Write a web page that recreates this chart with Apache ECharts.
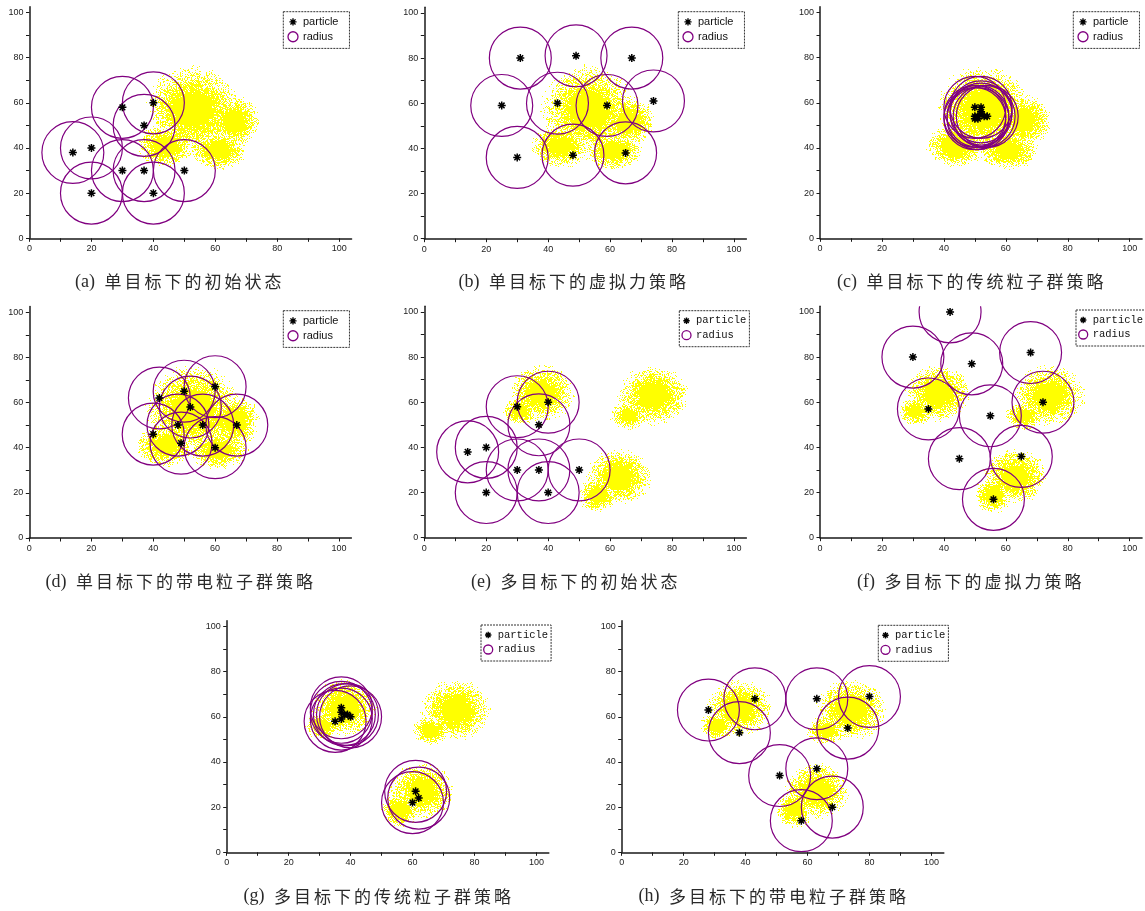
<!DOCTYPE html>
<html>
<head>
<meta charset="utf-8">
<script src="https://cdn.jsdelivr.net/npm/echarts@6/dist/echarts.min.js"></script>
<style>
  html, body { margin: 0; padding: 0; background: #ffffff; }
  #chart { width: 1145px; height: 911px; }
</style>
</head>
<body>
<div id="chart"></div>
<script>
// ---- data -------------------------------------------------------------
const labelTicks = [0, 20, 40, 60, 80, 100];
const tickMarks = [0, 10, 20, 30, 40, 50, 60, 70, 80, 90, 100];
const legendNames = ['particle', 'radius'];

// sensing radius of each particle, in x-axis units
const sensingRadius = 10;

// target distributions: lobes as [cx, cy, rx, ry]
const singleTargetCloud = [[53, 57, 16, 20.5], [44, 41, 10, 10], [61, 39, 10, 9], [66, 52, 9, 12]];
const multiTargetCloud = [
  [38, 64, 11, 13], [31, 56, 6, 6.5],
  [74, 63, 12, 14], [66, 54, 6.5, 6.5],
  [63, 27, 11, 13], [56, 19, 6.5, 8.5]
];

// particle positions [x, y]
const particlesA = [[14, 38], [20, 40], [20, 20], [30, 58], [37, 50], [40, 60], [30, 30], [37, 30], [40, 20], [50, 30]];
const particlesB = [[31, 80], [49, 81], [67, 80], [25, 59], [43, 60], [59, 59], [74, 61], [30, 36], [48, 37], [65, 38]];
const particlesC = [[50, 58], [52, 58], [50, 54], [51, 53], [52, 55], [53, 54], [52, 56], [51, 54], [50, 53], [54, 54]];
const particlesD = [[42, 62], [50, 65], [60, 67], [52, 58], [48, 50], [56, 50], [67, 50], [40, 46], [49, 42], [60, 40]];
const particlesE = [[14, 38], [20, 40], [20, 20], [30, 58], [37, 50], [40, 60], [30, 30], [37, 30], [40, 20], [50, 30]];
const particlesF = [[42, 100], [30, 80], [49, 77], [68, 82], [35, 57], [55, 54], [72, 60], [45, 35], [65, 36], [56, 17]];
const particlesG = [[37, 64], [37, 62], [38, 61], [39, 61], [40, 60], [35, 58], [37, 59], [61, 27], [62, 24], [60, 22]];
const particlesH = [[28, 63], [43, 68], [38, 53], [63, 68], [80, 69], [73, 55], [51, 34], [63, 37], [68, 20], [58, 14]];

const captionTags = ['(a)', '(b)', '(c)', '(d)', '(e)', '(f)', '(g)', '(h)'];
const captionTexts = [
  '单目标下的初始状态', '单目标下的虚拟力策略', '单目标下的传统粒子群策略', '单目标下的带电粒子群策略',
  '多目标下的初始状态', '多目标下的虚拟力策略', '多目标下的传统粒子群策略', '多目标下的带电粒子群策略'
];

const panelClouds = [singleTargetCloud, singleTargetCloud, singleTargetCloud, singleTargetCloud,
                     multiTargetCloud, multiTargetCloud, multiTargetCloud, multiTargetCloud];
const panelParticles = [particlesA, particlesB, particlesC, particlesD,
                        particlesE, particlesF, particlesG, particlesH];

// ---- layout -----------------------------------------------------------
const X_MAX = 104, Y_MAX = 102.5;
const PX_X = 3.097, PX_Y = 2.258;
const plotW = X_MAX * PX_X, plotH = Y_MAX * PX_Y;

const layout = [
  { left: 29.5,  bottom: 238.3, legend: [283.3, 11.7],  caption: [179, 282],   mono: false },
  { left: 424.3, bottom: 238.7, legend: [678.3, 11.7],  caption: [573, 282],   mono: false },
  { left: 820,   bottom: 238.3, legend: [1073.3, 11.7], caption: [971, 282],   mono: false },
  { left: 29.3,  bottom: 538,   legend: [283.3, 310.7], caption: [180, 582],   mono: false },
  { left: 424.3, bottom: 537.7, legend: [679.3, 310.7], caption: [575, 582],   mono: true },
  { left: 820,   bottom: 537.7, legend: [1076, 310],    caption: [970, 582],   mono: true },
  { left: 226.7, bottom: 852.3, legend: [481, 625],     caption: [378, 896.5], mono: true },
  { left: 621.7, bottom: 852.3, legend: [878.3, 625.3], caption: [773, 896.5], mono: true }
];

const AXIS_COLOR = '#1a1a1a';
const RING_COLOR = '#800080';
const CLOUD_RGB = [255, 255, 0];
const STAR = 'path://M5,0L5,10M0,5L10,5M1.46,1.46L8.54,8.54M8.54,1.46L1.46,8.54M3.4,3.4L6.6,3.4L6.6,6.6L3.4,6.6Z';
const STAR_LEGEND = 'path://M-2,-2M12,12M5,0L5,10M0,5L10,5M1.46,1.46L8.54,8.54M8.54,1.46L1.46,8.54M3.4,3.4L6.6,3.4L6.6,6.6L3.4,6.6Z';

// ---- grain texture for the target clouds ------------------------------
// stable per-pixel threshold so overlapping lobes share the same grain
function grainThreshold(x, y) {
  let h = (Math.imul(x, 374761393) + Math.imul(y, 668265263)) >>> 0;
  h = Math.imul(h ^ (h >>> 13), 1274126177) >>> 0;
  h = (h ^ (h >>> 16)) >>> 0;
  return (h & 0xffff) / 65536;
}

function grainImage(x0, y0, w, h, cx, cy, rx, ry) {
  const cv = document.createElement('canvas');
  cv.width = w; cv.height = h;
  const ctx = cv.getContext('2d');
  const img = ctx.createImageData(w, h);
  const d = img.data;
  for (let j = 0; j < h; j++) {
    for (let i = 0; i < w; i++) {
      const dx = (x0 + i + 0.5 - cx) / rx;
      const dy = (y0 + j + 0.5 - cy) / ry;
      const r2 = dx * dx + dy * dy;
      if (r2 >= 1) continue;
      const density = Math.min(1, 1.2 * Math.pow(1 - r2, 1.5));
      if (grainThreshold(x0 + i, y0 + j) < density) {
        const k = (j * w + i) * 4;
        d[k] = CLOUD_RGB[0]; d[k + 1] = CLOUD_RGB[1]; d[k + 2] = CLOUD_RGB[2]; d[k + 3] = 255;
      }
    }
  }
  ctx.putImageData(img, 0, 0);
  return cv;
}

function renderCloud(params, api) {
  const c = api.coord([api.value(0), api.value(1)]);
  const s = api.size([api.value(2), api.value(3)]);
  const x0 = Math.floor(c[0] - s[0]), y0 = Math.floor(c[1] - s[1]);
  const w = Math.ceil(2 * s[0]) + 2, h = Math.ceil(2 * s[1]) + 2;
  return {
    type: 'image',
    silent: true,
    style: { image: grainImage(x0, y0, w, h, c[0], c[1], s[0], s[1]), x: x0, y: y0, width: w, height: h }
  };
}

function renderRing(params, api) {
  const c = api.coord([api.value(0), api.value(1)]);
  const r = api.size([sensingRadius, 0])[0];
  return {
    type: 'circle',
    shape: { cx: c[0], cy: c[1], r: r },
    style: { fill: 'none', stroke: RING_COLOR, lineWidth: 1.2 }
  };
}

// ---- caption: tag plus spaced CJK glyphs --------------------------------
function captionRich(tag, text) {
  return '{t|' + tag + '}' + text.split('').map(ch => '{c|' + ch + '}').join('');
}

// ---- option ---------------------------------------------------------
const grids = [], xAxes = [], yAxes = [], series = [], legends = [], graphics = [];

layout.forEach((p, i) => {
  grids.push({
    left: p.left, top: p.bottom - plotH, width: plotW, height: plotH,
    containLabel: false, outerBoundsMode: 'none'
  });
  const axisCommon = {
    type: 'value', gridIndex: i, min: 0,
    splitLine: { show: false },
    axisLine: { show: true, onZero: false, lineStyle: { color: AXIS_COLOR, width: 1.5 } },
    axisTick: { show: true, inside: false, length: 3.5, customValues: tickMarks,
                lineStyle: { color: AXIS_COLOR, width: 1 } },
    axisLabel: { customValues: labelTicks, fontSize: 9, color: '#222',
                 fontFamily: 'Liberation Sans', margin: 6 }
  };
  xAxes.push(Object.assign({}, axisCommon, { max: X_MAX }));
  yAxes.push(Object.assign({}, axisCommon, { max: Y_MAX }));

  series.push({
    type: 'custom', name: 'target', xAxisIndex: i, yAxisIndex: i,
    data: panelClouds[i], renderItem: renderCloud, clip: true, silent: true, z: 1
  });
  series.push({
    type: 'custom', name: legendNames[1], xAxisIndex: i, yAxisIndex: i,
    data: panelParticles[i], renderItem: renderRing, clip: true, silent: true, z: 2
  });
  series.push({
    type: 'scatter', name: legendNames[0], xAxisIndex: i, yAxisIndex: i,
    data: panelParticles[i], symbol: STAR, symbolSize: 8, silent: true, z: 3,
    itemStyle: { color: '#000', borderColor: '#000', borderWidth: 1.5, opacity: 1 }
  });

  legends.push({
    orient: 'vertical', left: p.legend[0], top: p.legend[1],
    itemWidth: p.mono ? 9 : 10, itemHeight: 10, itemGap: 3.5,
    padding: p.mono ? [4.5, 3, 6, 2] : [4.5, 11, 6, 4],
    borderColor: '#333', borderWidth: 1, borderType: [2, 1],
    selectedMode: false,
    textStyle: { fontFamily: p.mono ? 'Liberation Mono' : 'Liberation Sans',
                 fontSize: p.mono ? 10.5 : 11, color: '#111' },
    data: [
      { name: legendNames[0], icon: STAR_LEGEND,
        itemStyle: { color: '#000', borderColor: '#000', borderWidth: 1.4 } },
      { name: legendNames[1], icon: 'circle',
        itemStyle: { color: 'rgba(0,0,0,0)', borderColor: RING_COLOR, borderWidth: 1.3 } }
    ]
  });

  graphics.push({
    type: 'text', x: p.caption[0], y: p.caption[1], silent: true,
    style: {
      text: captionRich(captionTags[i], captionTexts[i]),
      align: 'center', verticalAlign: 'middle',
      rich: {
        t: { fontSize: 18, fontFamily: '"Liberation Serif"', fill: '#2a2a2a',
             padding: [0, 8, 0, 0] },
        c: { fontSize: 17, fontFamily: '"Noto Sans CJK SC"', fill: '#2a2a2a',
             padding: [0, 1.5, 0, 1.5] }
      }
    }
  });
});

const chart = echarts.init(document.getElementById('chart'), null, { renderer: 'canvas' });
chart.setOption({
  animation: false,
  backgroundColor: '#ffffff',
  grid: grids,
  xAxis: xAxes,
  yAxis: yAxes,
  legend: legends,
  series: series,
  graphic: graphics
});
</script>
</body>
</html>
